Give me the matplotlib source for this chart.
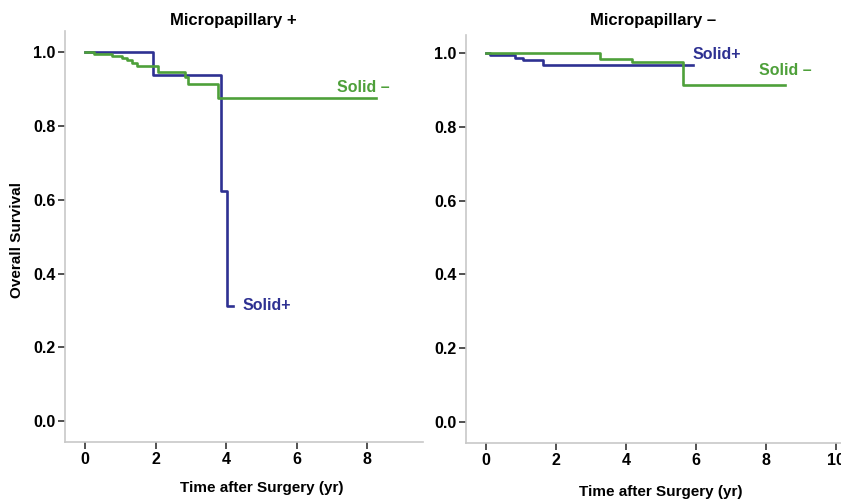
import matplotlib
matplotlib.use("Agg")
import matplotlib.pyplot as plt

plt.rcParams['font.family'] = ['Liberation Sans', 'DejaVu Sans']
plt.rcParams['font.weight'] = 'bold'

BLUE = '#2e3192'
GREEN = '#4ea03a'
SPINE = '#c8c8c8'

# Micropapillary + panel (time in yr, overall survival)
mp_pos_solid_pos_t = [0, 1.92, 3.85, 4.03, 4.2]
mp_pos_solid_pos_s = [1.0, 0.9375, 0.625, 0.3125, 0.3125]
mp_pos_solid_neg_t = [0, 0.24, 0.75, 1.04, 1.18, 1.32, 1.46, 2.08, 2.83, 2.93, 3.78, 8.26]
mp_pos_solid_neg_s = [1.0, 0.995, 0.99, 0.985, 0.978, 0.970, 0.962, 0.946, 0.932, 0.915, 0.877, 0.877]

# Micropapillary - panel
mp_neg_solid_pos_t = [0, 0.11, 0.83, 1.07, 1.64, 5.92]
mp_neg_solid_pos_s = [1.0, 0.994, 0.987, 0.980, 0.969, 0.969]
mp_neg_solid_neg_t = [0, 3.26, 4.16, 5.64, 8.54]
mp_neg_solid_neg_s = [1.0, 0.985, 0.976, 0.913, 0.913]

y_ticks = [0.0, 0.2, 0.4, 0.6, 0.8, 1.0]
x_ticks_left = [0, 2, 4, 6, 8]
x_ticks_right = [0, 2, 4, 6, 8, 10]

fig = plt.figure(figsize=(8.41, 5.01), dpi=100)
W, H = 841, 501


def make_axes(l, r, t, b):
    return fig.add_axes([l / W, 1 - b / H, (r - l) / W, (b - t) / H])


def style(ax, xticks):
    for s in ['top', 'right']:
        ax.spines[s].set_visible(False)
    for s in ['left', 'bottom']:
        ax.spines[s].set_color(SPINE)
        ax.spines[s].set_linewidth(1.2)
    ax.set_xticks(xticks)
    ax.set_yticks(y_ticks)
    ax.set_yticklabels([f'{v:.1f}' for v in y_ticks])
    ax.tick_params(length=5, width=1.2, color='#333333', labelsize=11.5, pad=2)
    for lab in ax.get_xticklabels() + ax.get_yticklabels():
        lab.set_fontweight('bold')


ax1 = make_axes(65, 423, 31, 442)
ax1.step(mp_pos_solid_pos_t, mp_pos_solid_pos_s, where='post', color=BLUE, lw=1.9)
ax1.step(mp_pos_solid_neg_t, mp_pos_solid_neg_s, where='post', color=GREEN, lw=1.9)
ax1.set_xlim(-0.57, 9.58)
ax1.set_ylim(-0.057, 1.058)
style(ax1, x_ticks_left)
ax1.text(4.45, 0.313, 'Solid+', color=BLUE, fontsize=11.5, fontweight='bold', va='center')
ax1.text(7.15, 0.905, 'Solid \u2013', color=GREEN, fontsize=11.5, fontweight='bold', va='center')

ax2 = make_axes(466, 857, 35, 443)
ax2.step(mp_neg_solid_pos_t, mp_neg_solid_pos_s, where='post', color=BLUE, lw=1.9)
ax2.step(mp_neg_solid_neg_t, mp_neg_solid_neg_s, where='post', color=GREEN, lw=1.9)
ax2.set_xlim(-0.57, 10.6)
ax2.set_ylim(-0.057, 1.049)
style(ax2, x_ticks_right)
ax2.text(5.9, 0.997, 'Solid+', color=BLUE, fontsize=11.5, fontweight='bold', va='center')
ax2.text(7.8, 0.953, 'Solid \u2013', color=GREEN, fontsize=11.5, fontweight='bold', va='center')

fig.text(233 / W, 1 - 20 / H, 'Micropapillary +', ha='center', va='center', fontsize=12, fontweight='bold')
fig.text(653 / W, 1 - 20 / H, 'Micropapillary \u2013', ha='center', va='center', fontsize=12, fontweight='bold')
fig.text(262 / W, 1 - 488 / H, 'Time after Surgery (yr)', ha='center', va='center', fontsize=11, fontweight='bold')
fig.text(661 / W, 1 - 492 / H, 'Time after Surgery (yr)', ha='center', va='center', fontsize=11, fontweight='bold')
fig.text(17 / W, 1 - 240 / H, 'Overall Survival', ha='center', va='center', rotation=90, fontsize=11, fontweight='bold')

fig.savefig('out.png', dpi=100)
